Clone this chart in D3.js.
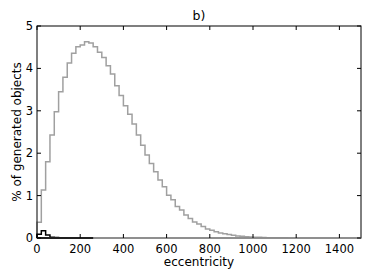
<!DOCTYPE html>
<html>
<head>
<meta charset="utf-8">
<script src="https://cdn.jsdelivr.net/npm/d3@7"></script>
<style>
  body { margin: 0; background: #fff; }
  svg text { font-family: "DejaVu Sans", sans-serif; }
</style>
</head>
<body>
<svg id="chart" width="374" height="280"></svg>
<script>
// histogram bins of 20 units, values in % of generated objects
const binWidth = 20;
const grayValues = [
  0.37, 1.13, 1.80, 2.43, 2.98, 3.45, 3.79, 4.13, 4.36, 4.51,
  4.55, 4.63, 4.60, 4.51, 4.38, 4.26, 4.06, 3.87, 3.59, 3.36,
  3.12, 2.92, 2.69, 2.43, 2.19, 1.96, 1.76, 1.56, 1.37, 1.21,
  1.01, 0.90, 0.74, 0.66, 0.54, 0.46, 0.38, 0.33, 0.27, 0.21,
  0.18, 0.15, 0.12, 0.10, 0.08, 0.065, 0.05, 0.04, 0.03, 0.025,
  0.02, 0.015, 0.01, 0.008, 0.006, 0.005, 0.004, 0.003, 0.002, 0.001,
  0, 0, 0, 0, 0, 0, 0, 0, 0, 0, 0, 0, 0, 0, 0
];
const blackValues = [0.09, 0.17, 0.07, 0.02, 0.01, 0.005, 0.003, 0.002, 0.001, 0.001, 0, 0, 0];

const xTicks = [0, 200, 400, 600, 800, 1000, 1200, 1400];
const yTicks = [0, 1, 2, 3, 4, 5];
const titleText = 'b)';
const xLabel = 'eccentricity';
const yLabel = '% of generated objects';

const margin = { left: 37, right: 13, top: 26, bottom: 42 };
const width = 374, height = 280;

const svg = d3.select('#chart');
const x = d3.scaleLinear().domain([0, 1500]).range([margin.left, width - margin.right]);
const y = d3.scaleLinear().domain([0, 5]).range([height - margin.bottom, margin.top]);

const stepPath = (values) => {
  const pts = [[0, 0]];
  values.forEach((v, i) => {
    pts.push([i * binWidth, v]);
    pts.push([(i + 1) * binWidth, v]);
  });
  const end = values.length * binWidth;
  pts.push([end, 0]);
  pts.push([0, 0]);
  return d3.line().x((d) => x(d[0])).y((d) => y(d[1]))(pts);
};

svg.append('path')
  .attr('d', stepPath(grayValues))
  .attr('fill', 'none')
  .attr('stroke', '#a0a0a0')
  .attr('stroke-width', 1.5);

svg.append('path')
  .attr('d', stepPath(blackValues))
  .attr('fill', 'none')
  .attr('stroke', '#000')
  .attr('stroke-width', 1.5);

// frame
svg.append('rect')
  .attr('x', x(0)).attr('y', y(5))
  .attr('width', x(1500) - x(0)).attr('height', y(0) - y(5))
  .attr('fill', 'none').attr('stroke', '#000').attr('stroke-width', 1);

// redraw gray baseline over the spine like the original
svg.append('line')
  .attr('x1', x(0)).attr('x2', x(1500)).attr('y1', y(0)).attr('y2', y(0))
  .attr('stroke', '#a0a0a0').attr('stroke-width', 1.5);
svg.append('path')
  .attr('d', d3.line()([[x(0), y(0)], [x(blackValues.length * binWidth), y(0)]]))
  .attr('stroke', '#000').attr('stroke-width', 1.5);

const tickLen = 4;
const ticks = svg.append('g').attr('stroke', '#000').attr('stroke-width', 1);
xTicks.forEach((t) => {
  ticks.append('line').attr('x1', x(t)).attr('x2', x(t)).attr('y1', y(0)).attr('y2', y(0) - tickLen);
  ticks.append('line').attr('x1', x(t)).attr('x2', x(t)).attr('y1', y(5)).attr('y2', y(5) + tickLen);
});
yTicks.forEach((t) => {
  ticks.append('line').attr('x1', x(0)).attr('x2', x(0) + tickLen).attr('y1', y(t)).attr('y2', y(t));
  ticks.append('line').attr('x1', x(1500)).attr('x2', x(1500) - tickLen).attr('y1', y(t)).attr('y2', y(t));
});

svg.append('g').selectAll('text').data(xTicks).join('text')
  .attr('x', (d) => x(d)).attr('y', y(0) + 15)
  .attr('text-anchor', 'middle').attr('font-size', 11.5).text((d) => d);

svg.append('g').selectAll('text').data(yTicks).join('text')
  .attr('x', x(0) - 4).attr('y', (d) => y(d) + 4)
  .attr('text-anchor', 'end').attr('font-size', 11.5).text((d) => d);

svg.append('text')
  .attr('x', (x(0) + x(1500)) / 2).attr('y', 266)
  .attr('text-anchor', 'middle').attr('font-size', 12).text(xLabel);

svg.append('text')
  .attr('transform', `translate(21,${(y(0) + y(5)) / 2}) rotate(-90)`)
  .attr('text-anchor', 'middle').attr('font-size', 12).text(yLabel);

svg.append('text')
  .attr('x', (x(0) + x(1500)) / 2).attr('y', 20)
  .attr('text-anchor', 'middle').attr('font-size', 12.5).text(titleText);
</script>
</body>
</html>
